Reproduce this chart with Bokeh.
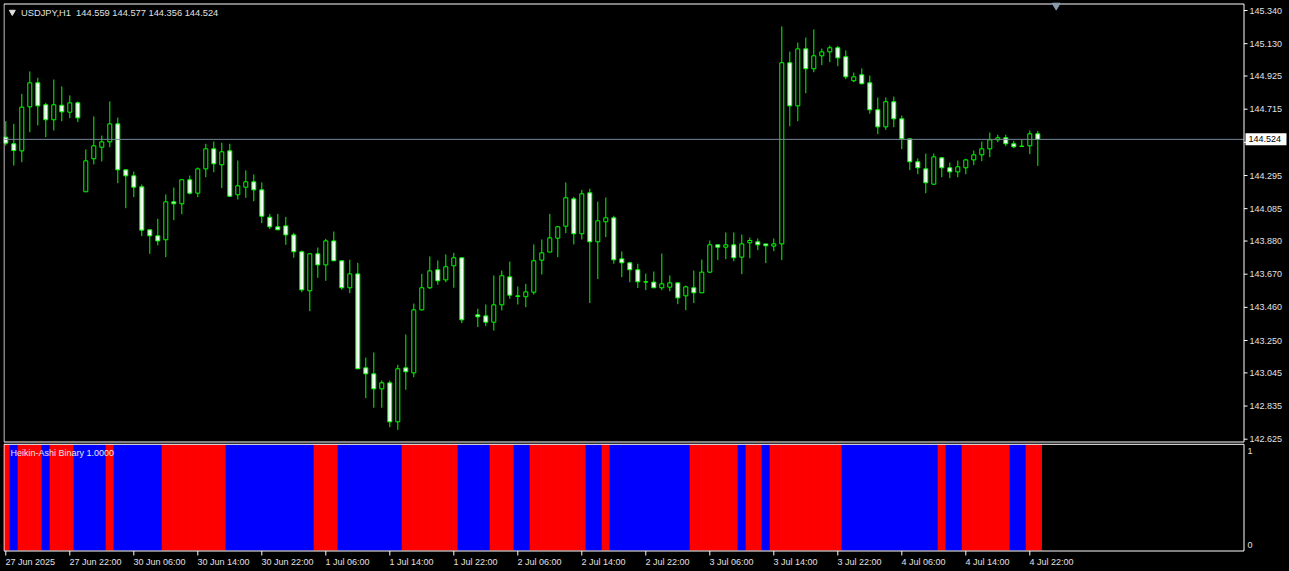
import numpy as np
from bokeh.plotting import figure
from bokeh.models import Range1d, ColumnDataSource, GlobalInlineStyleSheet
from bokeh.core.properties import value
from bokeh.embed import file_html
from bokeh.resources import INLINE

NaN = float("nan")

symbol = "USDJPY,H1"
indicator_name = "Heikin-Ashi Binary 1.0000"

# hourly bars, index 0 = 27 Jun 2025 14:00 (bar 58 has no drawn candle)
bar_index = list(range(130))

opens = [
    144.538, 144.496, 144.451, 144.730, 144.882, 144.743, 144.648, 144.740, 144.696, 144.755,
    144.192, 144.401, 144.474, 144.508, 144.622, 144.331, 144.293, 144.223, 143.951, 143.913,
    143.888, 144.128, 144.116, 144.268, 144.183, 144.337, 144.464, 144.363, 144.451, 144.173,
    144.221, 144.255, 144.204, 144.031, 143.970, 143.976, 143.919, 143.812, 143.565, 143.799,
    143.729, 143.881, 143.755, 143.584, 143.672, 143.077, 143.039, 142.944, 142.982, 142.735,
    143.077, 143.045, 143.444, 143.584, 143.698, 143.634, 143.723, 143.774, NaN, 143.413,
    143.406, 143.366, 143.476, 143.653, 143.533, 143.527, 143.556, 143.759, 143.810, 143.898,
    143.974, 144.147, 143.926, 144.185, 143.875, 144.002, 144.027, 143.767, 143.742, 143.698,
    143.622, 143.620, 143.584, 143.588, 143.615, 143.533, 143.584, 143.552, 143.683, 143.856,
    143.841, 143.856, 143.778, 143.869, 143.875, 143.862, 143.848, 143.862, 145.009, 144.736,
    145.097, 144.971, 145.053, 145.078, 145.104, 145.047, 144.895, 144.933, 144.882, 144.711,
    144.603, 144.762, 144.654, 144.527, 144.382, 144.337, 144.240, 144.407, 144.344, 144.318,
    144.344, 144.394, 144.426, 144.464, 144.521, 144.534, 144.496, 144.481, 144.483, 144.559,
]
highs = [
    144.639, 144.622, 144.812, 144.954, 144.914, 144.755, 144.903, 144.859, 144.802, 144.764,
    144.460, 144.669, 144.548, 144.764, 144.662, 144.331, 144.320, 144.238, 143.951, 144.021,
    144.175, 144.219, 144.270, 144.295, 144.346, 144.496, 144.510, 144.502, 144.496, 144.390,
    144.327, 144.301, 144.251, 144.052, 144.052, 144.033, 143.932, 143.820, 143.805, 143.839,
    143.894, 143.940, 143.755, 143.761, 143.742, 143.142, 143.174, 142.997, 142.997, 143.096,
    143.288, 143.484, 143.672, 143.782, 143.757, 143.795, 143.805, 143.774, NaN, 143.451,
    143.478, 143.662, 143.693, 143.750, 143.592, 143.609, 143.858, 143.890, 144.052, 143.976,
    144.251, 144.160, 144.204, 144.211, 144.130, 144.156, 144.040, 143.814, 143.748, 143.736,
    143.674, 143.687, 143.801, 143.662, 143.620, 143.598, 143.693, 143.763, 143.883, 143.856,
    143.934, 143.934, 143.921, 143.902, 143.896, 143.862, 143.896, 145.239, 145.080, 145.137,
    145.169, 145.220, 145.099, 145.118, 145.116, 145.087, 144.947, 144.973, 144.928, 144.789,
    144.789, 144.795, 144.675, 144.527, 144.403, 144.434, 144.434, 144.413, 144.377, 144.390,
    144.401, 144.453, 144.510, 144.567, 144.553, 144.553, 144.515, 144.521, 144.580, 144.577,
]
lows = [
    144.485, 144.358, 144.379, 144.569, 144.612, 144.538, 144.580, 144.639, 144.658, 144.633,
    144.190, 144.365, 144.384, 144.474, 144.246, 144.088, 144.158, 143.911, 143.799, 143.852,
    143.778, 144.012, 144.050, 144.175, 144.158, 144.284, 144.316, 144.215, 144.158, 144.143,
    144.154, 144.132, 143.993, 143.955, 143.951, 143.856, 143.774, 143.556, 143.436, 143.647,
    143.628, 143.755, 143.571, 143.550, 143.069, 142.885, 142.824, 142.824, 142.701, 142.684,
    142.938, 143.018, 143.440, 143.577, 143.603, 143.619, 143.584, 143.360, NaN, 143.335,
    143.341, 143.313, 143.440, 143.514, 143.478, 143.461, 143.541, 143.668, 143.810, 143.778,
    143.930, 143.858, 143.890, 143.487, 143.639, 143.905, 143.736, 143.651, 143.619, 143.582,
    143.569, 143.584, 143.569, 143.562, 143.480, 143.442, 143.487, 143.550, 143.677, 143.759,
    143.765, 143.752, 143.670, 143.771, 143.822, 143.740, 143.816, 143.759, 144.607, 144.639,
    144.816, 144.949, 144.994, 145.013, 144.987, 144.905, 144.886, 144.873, 144.686, 144.557,
    144.584, 144.601, 144.462, 144.329, 144.303, 144.183, 144.236, 144.284, 144.278, 144.284,
    144.303, 144.360, 144.386, 144.411, 144.506, 144.481, 144.468, 144.477, 144.430, 144.356,
]
closes = [
    144.500, 144.453, 144.728, 144.882, 144.736, 144.648, 144.743, 144.698, 144.755, 144.660,
    144.388, 144.483, 144.508, 144.622, 144.331, 144.293, 144.221, 143.949, 143.913, 143.881,
    144.128, 144.116, 144.268, 144.183, 144.337, 144.464, 144.369, 144.445, 144.164, 144.230,
    144.255, 144.204, 144.037, 143.970, 143.951, 143.919, 143.812, 143.571, 143.799, 143.729,
    143.881, 143.755, 143.584, 143.672, 143.071, 143.039, 142.944, 142.982, 142.735, 143.071,
    143.052, 143.444, 143.584, 143.691, 143.628, 143.717, 143.774, 143.381, NaN, 143.400,
    143.366, 143.476, 143.660, 143.537, 143.529, 143.558, 143.755, 143.805, 143.900, 143.970,
    144.154, 143.926, 144.179, 143.875, 144.008, 144.027, 143.761, 143.742, 143.698, 143.622,
    143.620, 143.584, 143.609, 143.615, 143.520, 143.590, 143.552, 143.683, 143.856, 143.841,
    143.856, 143.774, 143.862, 143.883, 143.856, 143.850, 143.862, 145.009, 144.736, 145.097,
    144.971, 145.053, 145.078, 145.104, 145.040, 144.920, 144.920, 144.876, 144.711, 144.603,
    144.762, 144.654, 144.527, 144.382, 144.344, 144.249, 144.413, 144.344, 144.318, 144.350,
    144.394, 144.426, 144.464, 144.521, 144.534, 144.496, 144.477, 144.479, 144.559, 144.524,
]

# Heikin-Ashi binary state per bar: 1 = bullish (red), 0 = bearish (blue)
ha_state = [
    1, 0, 1, 1, 1, 0, 1, 1, 1, 0,
    0, 0, 0, 1, 0, 0, 0, 0, 0, 0,
    1, 1, 1, 1, 1, 1, 1, 1, 0, 0,
    0, 0, 0, 0, 0, 0, 0, 0, 0, 1,
    1, 1, 0, 0, 0, 0, 0, 0, 0, 0,
    1, 1, 1, 1, 1, 1, 1, 0, 0, 0,
    0, 1, 1, 1, 0, 0, 1, 1, 1, 1,
    1, 1, 1, 0, 0, 1, 0, 0, 0, 0,
    0, 0, 0, 0, 0, 0, 1, 1, 1, 1,
    1, 1, 0, 1, 1, 0, 1, 1, 1, 1,
    1, 1, 1, 1, 1, 0, 0, 0, 0, 0,
    0, 0, 0, 0, 0, 0, 0, 1, 0, 0,
    1, 1, 1, 1, 1, 1, 0, 0, 1, 1,
]
ha_level = 1.0

time_ticks = [0, 8, 16, 24, 32, 40, 48, 56, 64, 72, 80, 88, 96, 104, 112, 120, 128]
time_labels = ["27 Jun 2025", "27 Jun 22:00", "30 Jun 06:00", "30 Jun 14:00", "30 Jun 22:00",
               "1 Jul 06:00", "1 Jul 14:00", "1 Jul 22:00", "2 Jul 06:00", "2 Jul 14:00",
               "2 Jul 22:00", "3 Jul 06:00", "3 Jul 14:00", "3 Jul 22:00", "4 Jul 06:00",
               "4 Jul 14:00", "4 Jul 22:00"]
price_ticks = [145.340, 145.130, 144.925, 144.715, 144.505, 144.295, 144.085, 143.880,
               143.670, 143.460, 143.250, 143.045, 142.835, 142.625]
price_labels = [f"{t:.3f}" for t in price_ticks]
ha_ticks = [1, 0]

# ---------------- layout helpers (pixel -> axis units) ----------------
W, H = 1288, 570
X_BAR0, PX_PER_BAR = 5.3, 8.0                       # screen x of bar 0, bar spacing
Y_REF, P_REF, PX_PER_UNIT = 10.0, 145.340, 157.9    # price scale of the main panel
HA_Y1, HA_Y0 = 444.0, 550.0                         # screen y of indicator 1 / 0


def xi(px):
    return (px - X_BAR0) / PX_PER_BAR


def yp(py):
    return P_REF - (py - Y_REF) / PX_PER_UNIT


def yh(py):
    return (HA_Y0 - py) / (HA_Y0 - HA_Y1)


FONT = "Liberation Sans"
TXT = "#e0e0e0"
GREEN = "#00ff00"
FS = "9px"

LEFT = 3
p = figure(frame_width=W - LEFT, frame_height=H,
           x_range=Range1d(xi(LEFT), xi(W)), y_range=Range1d(yp(H), yp(0)),
           output_backend="svg", toolbar_location=None,
           x_axis_location=None, y_axis_location=None,
           background_fill_color="black", border_fill_color="black",
           min_border_left=LEFT, min_border_right=0, min_border_top=0, min_border_bottom=0,
           outline_line_color=None)
p.extra_y_ranges = {"ha": Range1d(yh(H), yh(0))}
p.xgrid.visible = False
p.ygrid.visible = False

# ---------------- indicator panel ----------------
x = np.array(bar_index, dtype=float)
ha_src = ColumnDataSource(dict(
    x=x, top=[ha_level] * len(ha_state),
    color=["#ff0000" if s == 1 else "#0000ff" for s in ha_state],
))
p.vbar(x="x", width=1.04, top="top", bottom=0, source=ha_src, y_range_name="ha",
       fill_color="color", line_color=None)

# ---------------- candles ----------------
o = np.array(opens, dtype=float)
h = np.array(highs, dtype=float)
l = np.array(lows, dtype=float)
c = np.array(closes, dtype=float)
src = ColumnDataSource(dict(
    x=x, o=o, h=h, l=l, c=c,
    top=np.maximum(o, c), bottom=np.minimum(o, c),
    fill=["white" if cc < oo else "black" for oo, cc in zip(opens, closes)],
))
p.segment(x0="x", y0="l", x1="x", y1="h", source=src, line_color=GREEN, line_width=1)
p.vbar(x="x", width=0.5, top="top", bottom="bottom", source=src,
       fill_color="fill", line_color=GREEN, line_width=1)

# current price line
last = closes[-1]
p.segment(x0=[xi(LEFT)], y0=[last], x1=[xi(1243.5)], y1=[last],
          line_color="#778899", line_width=1)

# ---------------- panel frames ----------------
p.quad(left=[xi(3.5)], right=[xi(1243.5)], bottom=[yp(441.5)], top=[yp(3.5)],
       fill_color=None, line_color="white", line_width=1)
p.quad(left=[xi(3.5)], right=[xi(1243.5)], bottom=[yh(550.5)], top=[yh(443.8)],
       y_range_name="ha", fill_color=None, line_color="white", line_width=1)

# ---------------- price axis ----------------
n = len(price_ticks)
p.segment(x0=[xi(1243.5)] * n, y0=price_ticks, x1=[xi(1247)] * n, y1=price_ticks,
          line_color="white", line_width=1)
p.text(x=[xi(1249)] * n, y=price_ticks, text=price_labels,
       text_font=value(FONT), text_font_size=value(FS), text_color=TXT,
       text_align="left", text_baseline="middle")

# current price tag
tag_half = 6 / PX_PER_UNIT
p.quad(left=[xi(1245)], right=[xi(1286)], bottom=[last - tag_half], top=[last + tag_half],
       fill_color="white", line_color=None)
p.text(x=[xi(1248)], y=[last], text=[f"{last:.3f}"],
       text_font=value(FONT), text_font_size=value(FS), text_color="black",
       text_align="left", text_baseline="middle")

# ---------------- indicator axis ----------------
p.text(x=[xi(1247)] * 2, y=[yh(450.7), yh(544.0)], text=[str(t) for t in ha_ticks],
       y_range_name="ha", text_font=value(FONT), text_font_size=value(FS), text_color=TXT,
       text_align="left", text_baseline="middle")

# ---------------- time axis ----------------
m = len(time_ticks)
p.segment(x0=time_ticks, y0=[yh(550.5)] * m, x1=time_ticks, y1=[yh(555)] * m,
          y_range_name="ha", line_color="white", line_width=1)
p.text(x=[t - 0.05 for t in time_ticks], y=[yh(561)] * m, text=time_labels,
       y_range_name="ha", text_font=value(FONT), text_font_size=value(FS), text_color=TXT,
       text_align="left", text_baseline="middle")

# ---------------- header & labels ----------------
header = f"{symbol}\u00a0 {opens[-1]:.3f} {highs[-1]:.3f} {lows[-1]:.3f} {closes[-1]:.3f}"
p.text(x=[xi(20.5)], y=[yp(12)], text=[header], text_font=value(FONT),
       text_font_size=value("9.3px"), text_color=TXT, text_align="left", text_baseline="middle")
p.scatter(x=[xi(11.8)], y=[yp(11.5)], marker="inverted_triangle", size=6,
          fill_color=TXT, line_color=TXT)
p.scatter(x=[xi(1055.7)], y=[yp(5)], marker="inverted_triangle", size=8,
          fill_color="#8a9aaa", line_color="#8a9aaa")
p.text(x=[xi(10)], y=[yh(452)], text=[indicator_name], y_range_name="ha",
       text_font=value(FONT), text_font_size=value(FS), text_color="#e8e8e8",
       text_align="left", text_baseline="middle")

css = GlobalInlineStyleSheet(css="html, body { margin: 0; padding: 0; background: #000000; overflow: hidden; }")
p.stylesheets = [css]

open("out.html", "w").write(file_html(p, INLINE))
